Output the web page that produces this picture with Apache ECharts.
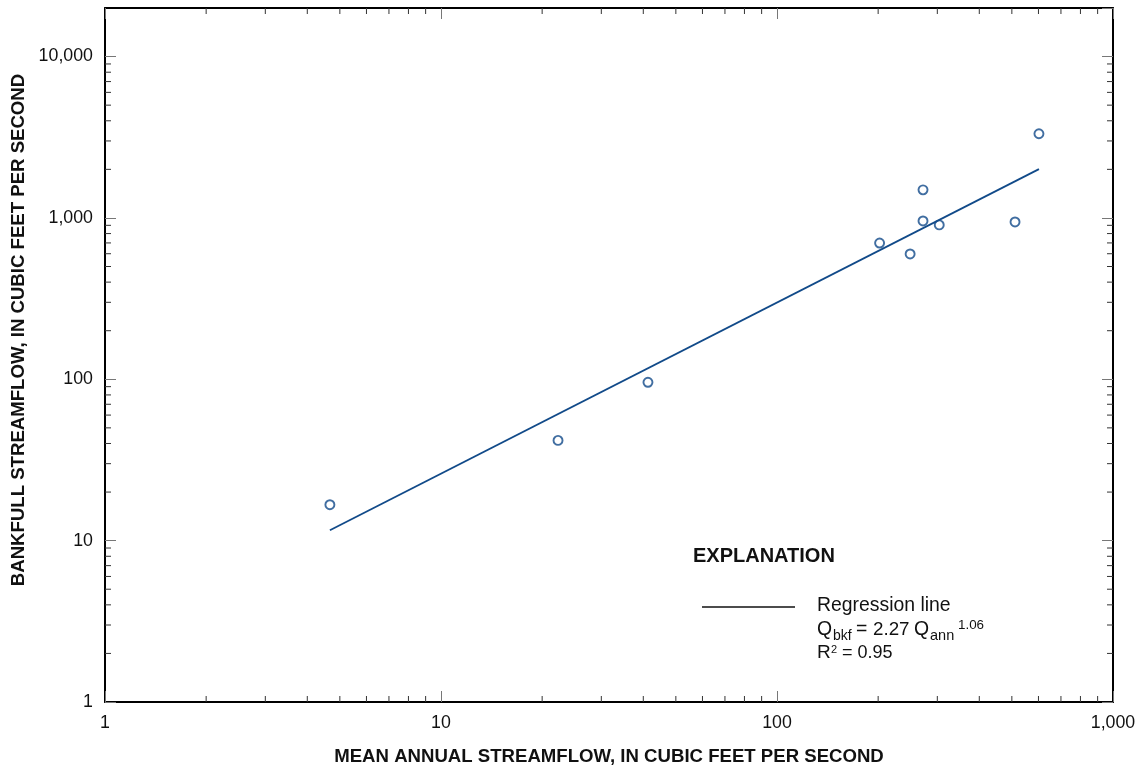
<!DOCTYPE html>
<html>
<head>
<meta charset="utf-8">
<script src="https://cdn.jsdelivr.net/npm/echarts@6/dist/echarts.min.js"></script>
<style>
  html, body { margin: 0; padding: 0; background: #fff; }
  #chart { width: 1140px; height: 767px; }
</style>
</head>
<body>
<div id="chart"></div>
<script>
// mean annual streamflow (cfs) vs bankfull streamflow (cfs)
const meanAnnual = [4.67, 22.3, 41.3, 202, 249, 272, 272, 304, 511, 602];
const bankfull = [16.7, 41.8, 95.8, 699, 598, 1493, 958, 905, 944, 3325];

// regression line end points, Qbkf = 2.27 Qann^1.06
const regX = [4.67, 602];
const regY = [11.6, 2006];

const xMin = 1, xMax = 1000;
const yMin = 1, yMax = 20000;

// minor tick values (2..9 in each decade)
const xMinor = [];
const yMinor = [];
[1, 10, 100].forEach(d => { for (let k = 2; k <= 9; k++) xMinor.push(k * d); });
[1, 10, 100, 1000, 10000].forEach(d => { for (let k = 2; k <= 9; k++) if (k * d < yMax) yMinor.push(k * d); });

const FONT = '"Liberation Sans", Arial, sans-serif';
const BLUE = '#114a89';
const INK = '#111';

function fmtLabel(v) {
  const l = Math.log10(v);
  if (Math.abs(l - Math.round(l)) > 1e-6) return '';
  return Math.round(v).toLocaleString('en-US');
}

const chart = echarts.init(document.getElementById('chart'));

function axisBase(pos, showLabel) {
  return {
    type: 'log',
    logBase: 10,
    position: pos,
    axisLine: { show: true, onZero: false, lineStyle: { color: '#000', width: 2 } },
    axisTick: { show: true, inside: true, length: 11, lineStyle: { color: '#777', width: 1 } },
    axisLabel: {
      show: showLabel,
      formatter: fmtLabel,
      fontFamily: FONT,
      fontSize: 17.8,
      color: INK,
      margin: 12,
      showMaxLabel: pos === 'left' ? false : true
    },
    splitLine: { show: false },
    minorTick: { show: false }
  };
}

const xBottom = Object.assign(axisBase('bottom', true), {
  min: xMin, max: xMax,
  name: 'MEAN ANNUAL STREAMFLOW, IN CUBIC FEET PER SECOND',
  nameLocation: 'middle',
  nameGap: 45,
  nameTextStyle: { fontFamily: FONT, fontSize: 18.6, fontWeight: 'bold', color: INK }
});
const xTop = Object.assign(axisBase('top', false), { min: xMin, max: xMax });
const yLeft = Object.assign(axisBase('left', true), { min: yMin, max: yMax });
const yRight = Object.assign(axisBase('right', false), { min: yMin, max: yMax });

function minorX(params, api) {
  const v = api.value(0);
  const b = api.coord([v, yMin]);
  const t = api.coord([v, yMax]);
  const style = { stroke: '#333', lineWidth: 1 };
  return {
    type: 'group',
    children: [
      { type: 'line', shape: { x1: b[0], y1: b[1], x2: b[0], y2: b[1] - 6 }, style: style },
      { type: 'line', shape: { x1: t[0], y1: t[1], x2: t[0], y2: t[1] + 6 }, style: style }
    ]
  };
}

function minorY(params, api) {
  const v = api.value(1);
  const l = api.coord([xMin, v]);
  const r = api.coord([xMax, v]);
  const style = { stroke: '#333', lineWidth: 1 };
  return {
    type: 'group',
    children: [
      { type: 'line', shape: { x1: l[0], y1: l[1], x2: l[0] + 6, y2: l[1] }, style: style },
      { type: 'line', shape: { x1: r[0], y1: r[1], x2: r[0] - 6, y2: r[1] }, style: style }
    ]
  };
}

function txt(x, y, text, size, bold) {
  return {
    type: 'text',
    x: x, y: y,
    style: {
      text: text,
      fontFamily: FONT,
      fontSize: size,
      fontWeight: bold ? 'bold' : 'normal',
      fill: INK,
      align: 'left',
      verticalAlign: 'middle'
    }
  };
}

const option = {
  backgroundColor: '#fff',
  animation: false,
  grid: { left: 105, right: 27, top: 8, bottom: 65, containLabel: false, outerBoundsMode: 'none' },
  xAxis: [xBottom, xTop],
  yAxis: [yLeft, yRight],
  series: [
    {
      name: 'minorX',
      type: 'custom',
      xAxisIndex: 0, yAxisIndex: 0,
      clip: false, silent: true,
      renderItem: minorX,
      data: xMinor.map(v => [v, yMin])
    },
    {
      name: 'minorY',
      type: 'custom',
      xAxisIndex: 0, yAxisIndex: 0,
      clip: false, silent: true,
      renderItem: minorY,
      data: yMinor.map(v => [xMin, v])
    },
    {
      name: 'Regression line',
      type: 'line',
      xAxisIndex: 0, yAxisIndex: 0,
      data: regX.map((x, i) => [x, regY[i]]),
      showSymbol: false,
      lineStyle: { color: BLUE, width: 1.8 },
      silent: true
    },
    {
      name: 'Sites',
      type: 'scatter',
      xAxisIndex: 0, yAxisIndex: 0,
      data: meanAnnual.map((x, i) => [x, bankfull[i]]),
      symbol: 'circle',
      symbolSize: 9,
      itemStyle: { color: '#fff', borderColor: BLUE, borderWidth: 1.9 }
    }
  ],
  graphic: [
    {
      type: 'text',
      x: 19, y: 330,
      rotation: Math.PI / 2,
      style: {
        text: 'BANKFULL STREAMFLOW, IN CUBIC FEET PER SECOND',
        fontFamily: FONT, fontSize: 18.6, fontWeight: 'bold', fill: INK,
        align: 'center', verticalAlign: 'middle'
      }
    },
    txt(693, 556, 'EXPLANATION', 20, true),
    {
      type: 'line',
      shape: { x1: 702, y1: 607, x2: 795, y2: 607 },
      style: { stroke: INK, lineWidth: 1.3 }
    },
    txt(817, 606, 'Regression line', 19.4),
    txt(817, 630, 'Q', 19.4),
    txt(833, 636, 'bkf', 14),
    txt(856, 630, '=', 19.4),
    txt(873, 630, '2.27', 18.8),
    txt(914, 630, 'Q', 19.4),
    txt(930, 636, 'ann', 14.5),
    txt(958, 625, '1.06', 13.4),
    txt(817, 653, 'R', 19),
    txt(831, 650, '2', 11),
    txt(842, 653, '= 0.95', 18)
  ]
};

chart.setOption(option);
</script>
</body>
</html>
